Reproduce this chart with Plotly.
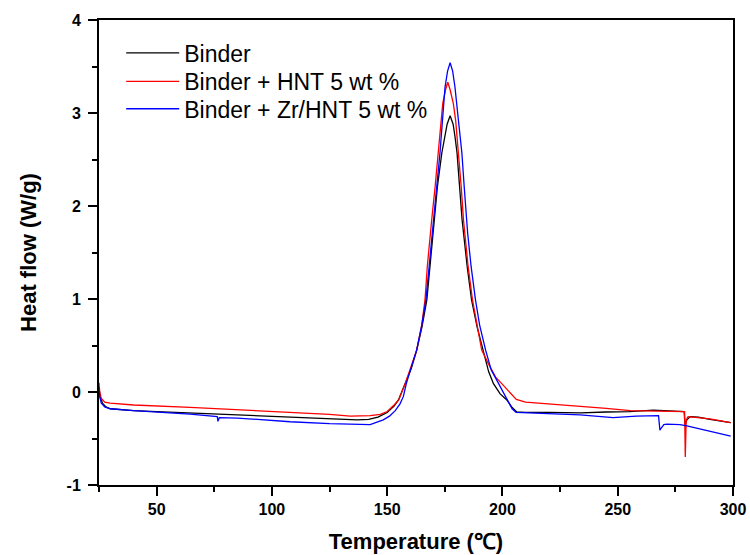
import plotly.graph_objects as go

# ---- data ----
binder_T = [25, 25.5, 26.5, 28, 30, 40, 50, 75, 100, 125, 137, 142, 146, 150, 153,
            154.9, 157.8, 160.4, 162.8, 165.1, 167.2, 168.6, 170.0, 170.5, 171.8,
            173.7, 175.1, 176.0, 177.3, 178.6, 179.4, 180.3, 181.4, 182.5, 184.7,
            186.6, 189.0, 191.7, 194, 196.1, 199, 201.9, 204, 206.2, 210,
            220, 234, 245, 255, 265.5, 272, 278.8, 279.2, 280, 281.5, 285, 290, 299]
binder_H = [0.05, -0.05, -0.12, -0.16, -0.18, -0.20, -0.21, -0.235, -0.265, -0.29, -0.30, -0.295, -0.27, -0.22, -0.15,
            -0.086, 0.09, 0.25, 0.45, 0.70, 0.99, 1.35, 1.71, 1.85, 2.21,
            2.57, 2.75, 2.88, 2.97, 2.88, 2.75, 2.57, 2.21, 1.85, 1.35,
            0.99, 0.70, 0.45, 0.22, 0.09, -0.02, -0.086, -0.16, -0.215, -0.22,
            -0.22, -0.225, -0.215, -0.21, -0.195, -0.20, -0.21, -0.355, -0.30, -0.265, -0.27, -0.295, -0.33]

hnt_T = [25, 25.3, 26, 27.5, 29.8, 40, 64.5, 85, 107.9, 125, 134, 142.6, 147, 150, 153,
         155, 157.8, 160, 162.8, 165, 166.4, 167.4, 168.6, 169.3, 170.8,
         172.2, 173.4, 174.1, 175.3, 176.3, 177.3, 178.7, 179.7, 181.0, 182.1,
         183.1, 185.1, 187.0, 189.0, 191.0, 194.6, 197, 199.7, 203, 206,
         210, 216, 225, 233.7, 245, 255.4, 268, 279, 279.3, 279.7, 280.5, 283, 290, 299]
hnt_H = [0.10, 0.0, -0.07, -0.11, -0.12, -0.14, -0.165, -0.19, -0.22, -0.24, -0.26, -0.255, -0.24, -0.21, -0.14,
         -0.086, 0.09, 0.25, 0.45, 0.72, 0.99, 1.35, 1.71, 1.85, 2.21,
         2.57, 2.92, 3.10, 3.25, 3.33, 3.25, 3.10, 2.92, 2.57, 2.21,
         1.85, 1.35, 0.99, 0.72, 0.45, 0.27, 0.16, 0.09, 0.0, -0.08,
         -0.11, -0.12, -0.135, -0.15, -0.175, -0.20, -0.205, -0.21, -0.70, -0.30, -0.265, -0.27, -0.29, -0.33]

zr_T = [25, 25.3, 26, 27.5, 29.8, 40, 64.5, 76.3, 76.6, 77.2, 85, 107.9, 125, 142.6, 148.3,
        151, 153.5, 155.5, 157, 158.3, 160, 162.8, 165, 166.8, 168.2,
        169.5, 170.0, 170.5, 171.5, 172.9, 174.1, 175.1, 176.2, 177.3, 178.4,
        179.4, 180.9, 182.4, 183.4, 184.4, 184.9, 186.4, 188.3, 190.1, 192.7,
        195.1, 198.3, 202.2, 204.2, 205.9, 210, 220, 233.7, 248, 258,
        267.7, 268.3, 268.8, 270, 271.3, 277, 280, 290, 299]
zr_H = [0.05, -0.05, -0.12, -0.16, -0.18, -0.20, -0.237, -0.265, -0.315, -0.275, -0.28, -0.32, -0.34, -0.35, -0.30,
        -0.26, -0.20, -0.13, -0.05, 0.09, 0.23, 0.45, 0.72, 0.99, 1.35,
        1.71, 1.85, 2.0, 2.21, 2.57, 2.92, 3.28, 3.45, 3.54, 3.45,
        3.28, 2.92, 2.57, 2.21, 1.85, 1.71, 1.35, 0.99, 0.72, 0.45,
        0.24, 0.09, -0.086, -0.18, -0.22, -0.225, -0.235, -0.247, -0.275, -0.26,
        -0.255, -0.41, -0.39, -0.35, -0.345, -0.35, -0.365, -0.42, -0.475]

names = ["Binder", "Binder + HNT 5 wt %", "Binder + Zr/HNT 5 wt %"]
colors = ["#000000", "#ff0000", "#0000ff"]

x_tickvals = [50, 100, 150, 200, 250, 300]
x_ticktext = ["50", "100", "150", "200", "250", "300"]
y_tickvals = [-1, 0, 1, 2, 3, 4]
y_ticktext = ["-1", "0", "1", "2", "3", "4"]

assert len(binder_T) == len(binder_H)
assert len(hnt_T) == len(hnt_H)
assert len(zr_T) == len(zr_H)

fig = go.Figure()
legend_ids = ["legend", "legend2", "legend3"]
for T, H, n, c, lg in [(binder_T, binder_H, names[0], colors[0], legend_ids[0]),
                       (hnt_T, hnt_H, names[1], colors[1], legend_ids[1]),
                       (zr_T, zr_H, names[2], colors[2], legend_ids[2])]:
    fig.add_trace(go.Scatter(x=T, y=H, mode="lines", name=n, legend=lg,
                             line=dict(color=c, width=1.3)))

fam = "Liberation Sans, Arial, sans-serif"
axis_common = dict(showgrid=False, zeroline=False, showline=True, linecolor="black",
                   linewidth=2, mirror=True, ticks="outside", ticklen=9, tickwidth=1.5,
                   tickcolor="black", automargin=False,
                   tickfont=dict(family=fam, size=16, color="black"))

fig.update_xaxes(range=[25, 300], tickmode="array", tickvals=x_tickvals,
                 ticktext=["<b>%s</b>" % t for t in x_ticktext],
                 minor=dict(ticks="outside", ticklen=5, tickwidth=1.5, tick0=25, dtick=25,
                            tickcolor="black", showgrid=False),
                 title=dict(text="<b>Temperature (℃)</b>", standoff=16,
                            font=dict(family=fam, size=22, color="black")),
                 **axis_common)
fig.update_yaxes(range=[-1, 4], tickmode="array", tickvals=y_tickvals,
                 ticktext=["<b>%s</b>" % t for t in y_ticktext],
                 ticklabelstandoff=4,
                 minor=dict(ticks="outside", ticklen=5, tickwidth=1.5, tick0=0, dtick=0.5,
                            tickcolor="black", showgrid=False),
                 title=dict(text="<b>Heat flow (W/g)</b>", standoff=24,
                            font=dict(family=fam, size=22, color="black")),
                 **axis_common)

leg_common = dict(x=0.035, xanchor="left", yanchor="middle", bgcolor="rgba(0,0,0,0)",
                  itemwidth=53, font=dict(family=fam, size=23, color="black"))
fig.update_layout(
    width=750, height=555,
    margin=dict(l=99, r=17, t=20, b=70),
    paper_bgcolor="white", plot_bgcolor="white",
    showlegend=True,
    legend=dict(y=0.929, **leg_common),
    legend2=dict(y=0.868, **leg_common),
    legend3=dict(y=0.809, **leg_common),
)

fig.write_html("out.html", config={"displayModeBar": False},
               post_script="document.body.style.margin='0';document.body.style.padding='0';")
